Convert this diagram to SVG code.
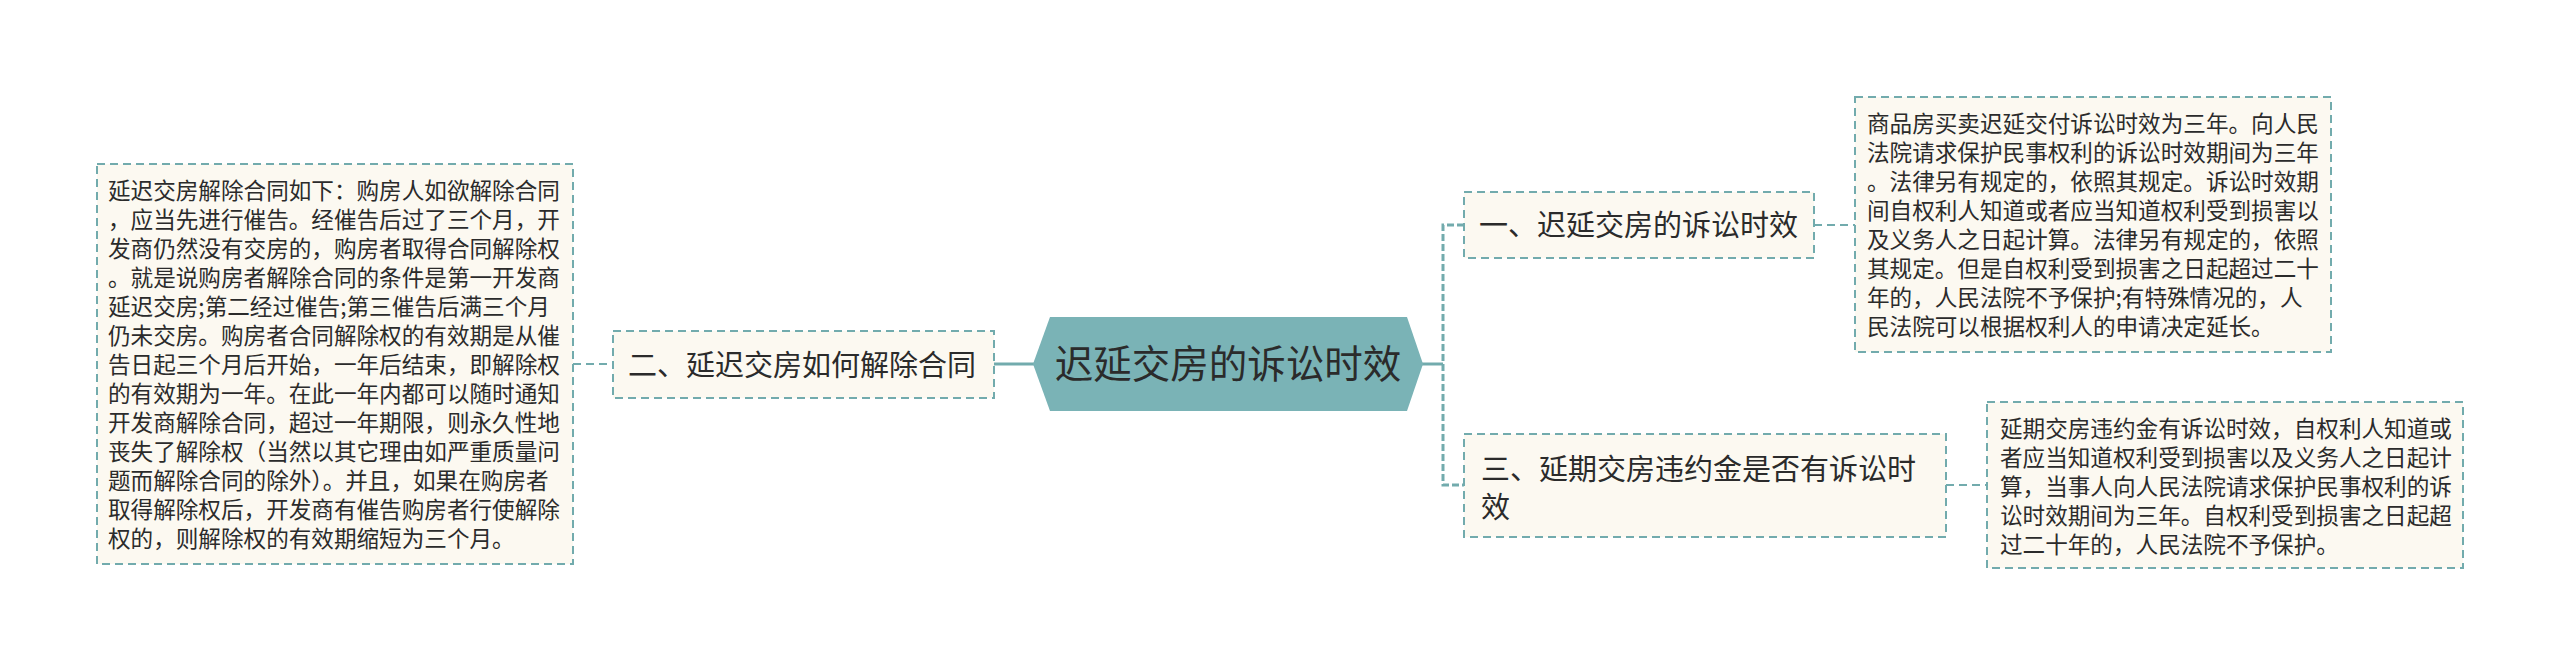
<svg xmlns="http://www.w3.org/2000/svg" width="2560" height="666" viewBox="0 0 2560 666">
<style>
.box{fill:#fcf9f1;stroke:#72abad;stroke-width:2;stroke-dasharray:8 5}
.t{font-family:"Noto Sans CJK SC","Noto Sans",sans-serif;fill:#2b2b2b}
.leaf{font-size:22.6px}
.mid{font-size:29px}
.conn{fill:none;stroke:#72abad;stroke-width:2;stroke-dasharray:8 5}
.solid{fill:none;stroke:#72abad;stroke-width:3}
.trunk{fill:none;stroke:#72abad;stroke-width:3;stroke-dasharray:7 3}
</style>
<rect width="2560" height="666" fill="#ffffff"/>
<g id="connectors">
<line class="solid" x1="994" y1="364" x2="1034" y2="364"/>
<line class="conn" x1="573" y1="364" x2="613" y2="364"/>
<line class="solid" x1="1422" y1="364" x2="1443" y2="364"/>
<path class="trunk" d="M1464,225 H1443 V485 H1464"/>
<line class="conn" x1="1814" y1="225" x2="1855" y2="225"/>
<line class="conn" x1="1946" y1="485" x2="1987" y2="485"/>
</g>
<g id="root">
<polygon points="1033,364 1050,317 1407,317 1423,364 1407,411 1050,411" fill="#7ab3b6"/>
<text class="t" x="1228" y="378" font-size="38.5" text-anchor="middle">迟延交房的诉讼时效</text>
</g>
<g id="node-left">
<rect class="box" x="613" y="331" width="381" height="67"/>
<text class="t mid" x="628" y="376">二、延迟交房如何解除合同</text>
</g>
<g id="leaf-left">
<rect class="box" x="97" y="164" width="476" height="400"/>
<text class="t leaf" x="108" y="198.5">
<tspan x="108">延迟交房解除合同如下：购房人如欲解除合同</tspan>
<tspan x="108" dy="29">，应当先进行催告。经催告后过了三个月，开</tspan>
<tspan x="108" dy="29">发商仍然没有交房的，购房者取得合同解除权</tspan>
<tspan x="108" dy="29">。就是说购房者解除合同的条件是第一开发商</tspan>
<tspan x="108" dy="29">延迟交房;第二经过催告;第三催告后满三个月</tspan>
<tspan x="108" dy="29">仍未交房。购房者合同解除权的有效期是从催</tspan>
<tspan x="108" dy="29">告日起三个月后开始，一年后结束，即解除权</tspan>
<tspan x="108" dy="29">的有效期为一年。在此一年内都可以随时通知</tspan>
<tspan x="108" dy="29">开发商解除合同，超过一年期限，则永久性地</tspan>
<tspan x="108" dy="29">丧失了解除权（当然以其它理由如严重质量问</tspan>
<tspan x="108" dy="29">题而解除合同的除外）。并且，如果在购房者</tspan>
<tspan x="108" dy="29">取得解除权后，开发商有催告购房者行使解除</tspan>
<tspan x="108" dy="29">权的，则解除权的有效期缩短为三个月。</tspan>
</text>
</g>
<g id="node-1">
<rect class="box" x="1464" y="192" width="350" height="66"/>
<text class="t mid" x="1479" y="236">一、迟延交房的诉讼时效</text>
</g>
<g id="leaf-1">
<rect class="box" x="1855" y="97" width="476" height="255"/>
<text class="t leaf" x="1867" y="131.5">
<tspan x="1867">商品房买卖迟延交付诉讼时效为三年。向人民</tspan>
<tspan x="1867" dy="29">法院请求保护民事权利的诉讼时效期间为三年</tspan>
<tspan x="1867" dy="29">。法律另有规定的，依照其规定。诉讼时效期</tspan>
<tspan x="1867" dy="29">间自权利人知道或者应当知道权利受到损害以</tspan>
<tspan x="1867" dy="29">及义务人之日起计算。法律另有规定的，依照</tspan>
<tspan x="1867" dy="29">其规定。但是自权利受到损害之日起超过二十</tspan>
<tspan x="1867" dy="29">年的，人民法院不予保护;有特殊情况的，人</tspan>
<tspan x="1867" dy="29">民法院可以根据权利人的申请决定延长。</tspan>
</text>
</g>
<g id="node-3">
<rect class="box" x="1464" y="434" width="482" height="103"/>
<text class="t mid" x="1481" y="480">
<tspan x="1481">三、延期交房违约金是否有诉讼时</tspan>
<tspan x="1481" dy="38">效</tspan>
</text>
</g>
<g id="leaf-3">
<rect class="box" x="1987" y="402" width="476" height="166"/>
<text class="t leaf" x="2000" y="436.5">
<tspan x="2000">延期交房违约金有诉讼时效，自权利人知道或</tspan>
<tspan x="2000" dy="29">者应当知道权利受到损害以及义务人之日起计</tspan>
<tspan x="2000" dy="29">算，当事人向人民法院请求保护民事权利的诉</tspan>
<tspan x="2000" dy="29">讼时效期间为三年。自权利受到损害之日起超</tspan>
<tspan x="2000" dy="29">过二十年的，人民法院不予保护。</tspan>
</text>
</g>
</svg>
